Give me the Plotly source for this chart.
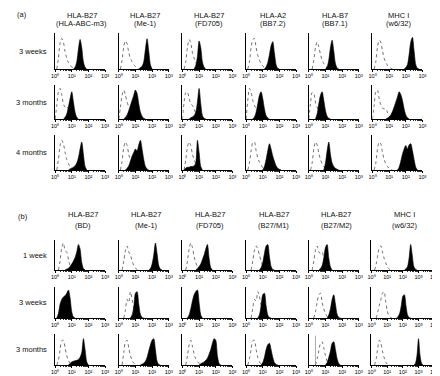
import math
import plotly.graph_objects as go

# ---------------- text ----------------
a_heads = [("HLA-B27", "(HLA-ABC-m3)"), ("HLA-B27", "(Me-1)"), ("HLA-B27", "(FD705)"),
           ("HLA-A2", "(BB7.2)"), ("HLA-B7", "(BB7.1)"), ("MHC I", "(w6/32)")]
b_heads = [("HLA-B27", "(BD)"), ("HLA-B27", "(Me-1)"), ("HLA-B27", "(FD705)"),
           ("HLA-B27", "(B27/M1)"), ("HLA-B27", "(B27/M2)"), ("MHC I", "(w6/32)")]
a_rows = ["3 weeks", "3 months", "4 months"]
b_rows = ["1 week", "3 weeks", "3 months"]
tick_labels = ["10⁰", "10¹", "10²", "10³", "10⁴"]

# decades shown on each column's log axis
a_decades = [3, 3, 3, 3, 3, 3]
b_decades = [3, 3, 3, 3, 3, 4]

# ---------------- histogram data (log10 fluorescence, bins of 0.1 decade) ----------------
BIN = 0.1
# (a) 3 weeks
a1_open_x0 = [0.1, 0.1, 0.1, 0.1, 0.2, 0.1]
a1_open = [[0, .3, .72, .85, .74, .48, .3, .18, .1, .06, .03, 0],
           [0, .25, .62, .78, .7, .45, .3, .2, .12, .07, .04, 0],
           [0, .2, .6, .82, .72, .45, .3, .18, .1, .05, 0],
           [0, .2, .6, .82, .85, .6, .38, .25, .15, .08, .04, 0],
           [0, .25, .6, .75, .62, .4, .25, .15, .08, .04, 0],
           [0, .2, .6, .8, .75, .5, .3, .18, .1, .05, .02, 0]]
a1_fill_x0 = [1.1, 1.2, 0.7, 1.1, 1.0, 1.9]
a1_fill = [[0, .05, .2, .55, .82, .6, .2, .05, 0],
           [0, .04, .08, .2, .55, .84, .5, .12, 0],
           [0, .1, .35, .78, .6, .2, .05, 0],
           [0, .06, .18, .4, .65, .76, .45, .12, .02, 0],
           [0, .06, .25, .6, .8, .5, .15, .03, 0],
           [0, .04, .12, .4, .75, .88, .5, .12, .02, 0]]
# (a) 3 months
a2_open_x0 = [0.0, 0.0, 0.0, 0.0, 0.0, 0.0]
a2_open = [[0, .4, .8, .9, .7, .45, .35, .38, .3, .15, .06, .02, 0],
           [0, .35, .7, .85, .7, .5, .38, .4, .3, .15, .06, 0],
           [0, .5, .78, .8, .6, .45, .4, .3, .15, .07, .02, 0],
           [0, .55, .9, .8, .55, .4, .3, .2, .1, .05, 0],
           [0, .45, .78, .75, .5, .35, .25, .15, .07, .03, 0],
           [0, .4, .8, .85, .6, .42, .32, .3, .3, .2, .1, .04, 0]]
a2_fill_x0 = [0.5, 0.3, 0.4, 0.4, 0.4, 0.8]
a2_fill = [[0, .05, .15, .35, .6, .8, .5, .2, .05, 0],
           [0, .05, .12, .25, .4, .55, .7, .85, .75, .45, .2, .08, .02, 0],
           [0, .04, .06, .1, .2, .5, .9, .45, .1, .02, 0],
           [0, .06, .2, .45, .7, .8, .6, .3, .1, .03, 0],
           [0, .15, .45, .7, .8, .55, .25, .08, .02, 0],
           [0, .03, .06, .12, .22, .35, .5, .65, .8, .72, .55, .3, .12, .04, 0]]
# (a) 4 months
a3_open_x0 = [0.1, 0.1, 0.1, 0.1, 0.1, 0.1]
a3_open = [[0, .3, .7, .85, .75, .5, .3, .18, .1, .06, .03, 0],
           [0, .25, .65, .8, .7, .45, .28, .17, .1, .05, 0],
           [0, .3, .65, .8, .7, .45, .3, .18, .1, .05, 0],
           [0, .2, .55, .78, .8, .55, .35, .22, .14, .07, .03, 0],
           [0, .2, .6, .8, .72, .48, .3, .18, .1, .05, 0],
           [0, .2, .6, .8, .75, .5, .3, .18, .1, .05, .02, 0]]
a3_fill_x0 = [0.8, 0.4, 0.1, 1.0, 0.9, 1.5]
a3_fill = [[0, .03, .05, .08, .12, .2, .35, .6, .8, .45, .1, 0],
           [0, .05, .12, .25, .4, .5, .6, .55, .72, .85, .6, .3, .1, .03, 0],
           [0, .06, .08, .08, .1, .1, .12, .2, .85, .5, .1, 0],
           [0, .1, .3, .55, .75, .6, .4, .25, .12, .05, .02, 0],
           [0, .2, .55, .8, .45, .2, .1, .05, .02, 0],
           [0, .08, .25, .45, .6, .7, .6, .72, .75, .55, .3, .08, 0]]
# (b) 1 week
b1_open_x0 = [0.2, 0.2, 0.2, 0.3, 0.2, 0.2]
b1_open = [[0, .3, .75, .9, .65, .6, .35, .15, .05, 0],
           [0, .3, .65, .8, .6, .5, .3, .15, .06, .02, 0],
           [0, .3, .7, .9, .75, .45, .25, .12, .05, .02, 0],
           [0, .3, .65, .8, .7, .5, .3, .15, .06, .02, 0],
           [0, .3, .65, .8, .6, .55, .6, .4, .2, .08, 0],
           [0, .2, .5, .75, .8, .6, .4, .25, .12, .05, 0]]
b1_fill_x0 = [0.6, 1.8, 0.8, 0.8, 0.6, 2.1]
b1_fill = [[0, .03, .06, .12, .2, .3, .42, .6, .85, .7, .25, .05, 0],
           [0, .05, .2, .5, .9, .55, .15, .03, 0],
           [0, .05, .12, .2, .35, .5, .7, .85, .4, .08, 0],
           [0, .08, .25, .55, .8, .85, .45, .12, .02, 0],
           [0, .05, .15, .4, .75, .85, .4, .1, 0],
           [0, .04, .12, .4, .85, .5, .12, .03, 0]]
# (b) 3 weeks
b2_open_x0 = [0.3, 0.3, 0.5, 0.3, 0.3, 0.3]
b2_open = [[0, .2, .45, .55, .5, .35, .15, .04, 0],
           [0, .25, .6, .5, .85, .6, .3, .1, .03, 0],
           [0, .2, .45, .55, .5, .3, 0],
           [0, .3, .6, .55, .85, .7, .4, .18, .06, 0],
           [0, .2, .5, .75, .8, .5, .3, .15, .05, 0],
           [0, .2, .4, .6, .8, .85, .55, .25, .08, .02, 0]]
b2_fill_x0 = [0.1, 0.7, 0.3, 0.7, 1.1, 1.6]
b2_fill = [[0, .15, .45, .6, .68, .72, .8, .9, .65, .2, .03, 0],
           [0, .1, .35, .8, .85, .45, .12, .02, 0],
           [0, .1, .3, .55, .75, .85, .9, .5, .1, 0],
           [0, .1, .4, .75, .8, .4, .1, .02, 0],
           [0, .1, .3, .6, .75, .45, .12, .02, 0],
           [0, .05, .15, .4, .7, .75, .4, .1, .02, 0]]
# (b) 3 months
b3_open_x0 = [0.1, 0.2, 0.2, 0.1, 0.4, 0.2]
b3_open = [[0, .15, .5, .78, .8, .55, .3, .15, .06, .02, 0],
           [0, .4, .75, .8, .55, .3, .15, .06, .02, 0],
           [0, .3, .65, .8, .6, .35, .2, .1, .06, .05, .03, 0],
           [0, .2, .5, .78, .8, .5, .25, .1, .03, 0],
           [0, .2, .45, .7, .75, .55, .3, .12, .04, 0],
           [0, .2, .55, .8, .7, .45, .25, .1, .03, 0]]
b3_fill_x0 = [0.8, 1.3, 1.0, 0.9, 1.0, 2.7]
b3_fill = [[0, .05, .1, .12, .14, .15, .18, .25, .4, .85, .5, .1, 0],
           [0, .03, .06, .12, .25, .45, .65, .8, .85, .5, .12, .02, 0],
           [0, .04, .07, .1, .15, .22, .35, .5, .7, .85, .8, .3, .05, 0],
           [0, .08, .25, .5, .65, .7, .5, .25, .08, .02, 0],
           [0, .08, .25, .45, .7, .75, .5, .2, .05, 0],
           [0, .05, .3, .85, .3, .05, 0]]
# single-channel spike seen in (b) 3 months, B27/M2 panel: (x, height)
b3_spike_col = 4
b3_spike = (0.4, 0.95)

# ---------------- layout geometry (pixels) ----------------
W, H = 440, 376
col_x0 = [44, 109, 174, 239, 303, 368]
a_rows_px = [(25, 61), (77, 111), (127, 162)]
b_rows_px = [(232, 262), (279, 310), (326, 357)]
FONT = "Liberation Sans, Arial, Helvetica, sans-serif"


def fx(px):
    return px / W


def fy(py):
    return 1 - py / H


fig = go.Figure()
layout_axes = {}
n = 0

sections = [
    (a_rows_px, a_decades, [(a1_open_x0, a1_open, a1_fill_x0, a1_fill),
                            (a2_open_x0, a2_open, a2_fill_x0, a2_fill),
                            (a3_open_x0, a3_open, a3_fill_x0, a3_fill)]),
    (b_rows_px, b_decades, [(b1_open_x0, b1_open, b1_fill_x0, b1_fill),
                            (b2_open_x0, b2_open, b2_fill_x0, b2_fill),
                            (b3_open_x0, b3_open, b3_fill_x0, b3_fill)]),
]

for si, (rows_px, decades, rows_data) in enumerate(sections):
    for ri, (top, bot) in enumerate(rows_px):
        ox0, oc, fx0, fc = rows_data[ri]
        for ci in range(6):
            n += 1
            xa = "x" if n == 1 else f"x{n}"
            ya = "y" if n == 1 else f"y{n}"
            dec = decades[ci]
            width = 51 if dec == 3 else 64
            x0 = col_x0[ci] - (1 if (si == 1 and ci == 5) else 0)
            minor_vals = [k + math.log10(m) for k in range(dec) for m in range(2, 10)]
            layout_axes["xaxis" if n == 1 else f"xaxis{n}"] = dict(
                domain=[fx(x0), fx(x0 + width)], anchor=ya, range=[0, dec],
                showline=True, linecolor="black", linewidth=1,
                ticks="outside", ticklen=1.5, tickwidth=0.7, tickcolor="black",
                tickvals=list(range(dec + 1)),
                ticktext=tick_labels[:dec + 1],
                tickfont=dict(size=5.5, family=FONT, color="black"),
                ticklabelstandoff=0,
                minor=dict(tickvals=minor_vals, ticks="outside", ticklen=1,
                           tickwidth=0.5, tickcolor="#333"),
                showgrid=False, zeroline=False, fixedrange=True)
            layout_axes["yaxis" if n == 1 else f"yaxis{n}"] = dict(
                domain=[fy(bot), fy(top)], anchor=xa, range=[0, 1],
                showline=True, linecolor="black", linewidth=1,
                ticks="", showticklabels=False, showgrid=False,
                zeroline=False, fixedrange=True)
            # open (control) histogram
            xs = [ox0[ci] + BIN * i for i in range(len(oc[ci]))]
            fig.add_trace(go.Scatter(
                x=xs, y=oc[ci], mode="lines", xaxis=xa, yaxis=ya,
                line=dict(color="#333", width=0.7, dash="dot", shape="spline", smoothing=0.8),
                hoverinfo="skip", showlegend=False))
            if si == 1 and ri == 2 and ci == b3_spike_col:
                fig.add_trace(go.Scatter(
                    x=[b3_spike[0], b3_spike[0]], y=[0, b3_spike[1]], mode="lines",
                    xaxis=xa, yaxis=ya, line=dict(color="#777", width=0.6),
                    hoverinfo="skip", showlegend=False))
            # filled (stained) histogram
            xs = [fx0[ci] + BIN * i for i in range(len(fc[ci]))]
            fig.add_trace(go.Scatter(
                x=xs, y=fc[ci], mode="lines", xaxis=xa, yaxis=ya,
                fill="tozeroy", fillcolor="black",
                line=dict(color="black", width=0.6, shape="spline", smoothing=0.8),
                hoverinfo="skip", showlegend=False))

annotations = []


def txt(x, y, s, size=7.5, anchor="center"):
    annotations.append(dict(x=fx(x), y=fy(y), xref="paper", yref="paper", text=s,
                            showarrow=False, xanchor=anchor, yanchor="middle",
                            font=dict(size=size, family=FONT, color="#111")))


txt(3, 7, "(a)", anchor="left")
txt(4, 208, "(b)", anchor="left")
for ci in range(6):
    cx = col_x0[ci] + 27
    txt(cx, 7.5, a_heads[ci][0])
    txt(cx, 16, a_heads[ci][1])
    cxb = cx + (6 if ci == 5 else 1)
    txt(cxb, 207, b_heads[ci][0])
    txt(cxb, 217, b_heads[ci][1])
for ri in range(3):
    t, b = a_rows_px[ri]
    txt(38, (t + b) / 2, a_rows[ri], anchor="right")
    t, b = b_rows_px[ri]
    txt(38, (t + b) / 2, b_rows[ri], anchor="right")

fig.update_layout(width=W, height=H, margin=dict(l=0, r=0, t=0, b=0),
                  paper_bgcolor="white", plot_bgcolor="white",
                  annotations=annotations, showlegend=False, **layout_axes)
fig.write_html("out.html", config={"displayModeBar": False})
